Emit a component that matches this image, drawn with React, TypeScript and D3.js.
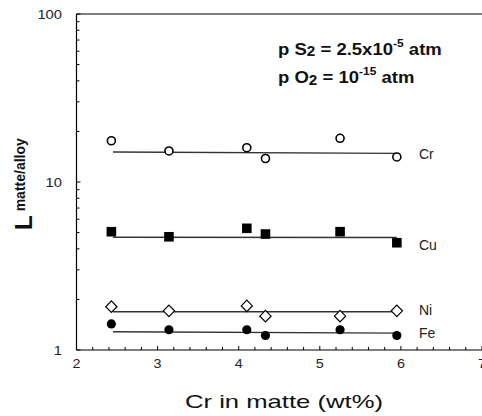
import React from "react";
import * as d3 from "d3";

const xValues = [2.43, 3.14, 4.1, 4.33, 5.25, 5.95];
const crValues = [17.6, 15.3, 16.0, 13.8, 18.2, 14.1];
const cuValues = [5.06, 4.72, 5.3, 4.9, 5.06, 4.35];
const niValues = [1.81, 1.71, 1.83, 1.59, 1.59, 1.71];
const feValues = [1.43, 1.32, 1.32, 1.22, 1.32, 1.22];

const fitX = [2.45, 5.95];
const crFit = [15.1, 14.8];
const cuFit = [4.69, 4.67];
const niFit = [1.69, 1.69];
const feFit = [1.285, 1.26];

const seriesNames = ["Cr", "Cu", "Ni", "Fe"];
const xTickLabels = ["2", "3", "4", "5", "6", "7"];
const yTickLabels = ["1", "10", "100"];

const W = 482;
const H = 416;

export default function App() {
  const x = d3.scaleLinear().domain([2, 7]).range([76.5, 482]);
  const y = d3.scaleLog().domain([1, 100]).range([350, 14]);
  const left = x(2);
  const bottom = y(1);
  const top = y(100);

  const xMinor = d3.range(0, 26).map((i) => 2 + i * 0.2);
  const yMinor: number[] = [];
  [1, 10].forEach((d) => {
    for (let k = 2; k <= 9; k++) yMinor.push(d * k);
  });

  const fitLine = (vals: number[]) =>
    d3.line<number>().x((_, i) => x(fitX[i])).y((v) => y(v))(vals) || "";

  const series = [
    { name: seriesNames[0], vals: crValues, fit: crFit, kind: "openCircle" },
    { name: seriesNames[1], vals: cuValues, fit: cuFit, kind: "square" },
    { name: seriesNames[2], vals: niValues, fit: niFit, kind: "diamond" },
    { name: seriesNames[3], vals: feValues, fit: feFit, kind: "dot" },
  ];
  const labelY: Record<string, number> = { Cr: 14.7, Cu: 4.22, Ni: 1.73, Fe: 1.26 };

  const marker = (kind: string, cx: number, cy: number, key: number) => {
    if (kind === "openCircle")
      return <circle key={key} cx={cx} cy={cy} r={4} fill="#fff" stroke="#000" strokeWidth={1.6} />;
    if (kind === "square")
      return <rect key={key} x={cx - 4.8} y={cy - 4.8} width={9.6} height={9.6} fill="#000" />;
    if (kind === "diamond")
      return (
        <path
          key={key}
          d={`M${cx},${cy - 5.8}L${cx + 5.6},${cy}L${cx},${cy + 5.8}L${cx - 5.6},${cy}Z`}
          fill="#fff"
          stroke="#000"
          strokeWidth={1.2}
        />
      );
    return <circle key={key} cx={cx} cy={cy} r={4.6} fill="#000" />;
  };

  const font = "'Liberation Sans', Arial, sans-serif";

  return (
    <svg
      width={W}
      height={H}
      style={{ position: "absolute", left: 0, top: 0, background: "#fff" }}
      fontFamily={font}
    >
      <rect x={0} y={0} width={W} height={H} fill="#fff" />
      {/* axes frame */}
      <line x1={left} x2={W} y1={top} y2={top} stroke="#000" strokeWidth={1} />
      <line x1={left} x2={left} y1={top} y2={bottom} stroke="#000" strokeWidth={1.2} />
      <line x1={left} x2={W} y1={bottom} y2={bottom} stroke="#000" strokeWidth={1.2} />

      {/* x ticks */}
      {xMinor.map((v, i) => (
        <line
          key={"xm" + i}
          x1={x(v)}
          x2={x(v)}
          y1={bottom}
          y2={bottom - (i % 5 === 0 ? 4 : 3)}
          stroke="#000"
        />
      ))}
      {xTickLabels.map((t) => (
        <text
          key={"xl" + t}
          x={x(+t)}
          y={368}
          textAnchor="middle"
          fontSize={12}
          fill="#222"
          textLength={8}
          lengthAdjust="spacingAndGlyphs"
        >
          {t}
        </text>
      ))}

      {/* y ticks */}
      {yMinor.map((v, i) => (
        <line key={"ym" + i} x1={left} x2={left + 3} y1={y(v)} y2={y(v)} stroke="#000" />
      ))}
      {yTickLabels.map((t) => (
        <line key={"yM" + t} x1={left} x2={left + 4} y1={y(+t)} y2={y(+t)} stroke="#000" />
      ))}
      {yTickLabels.map((t) => (
        <text
          key={"yl" + t}
          x={62}
          y={y(+t) + 5}
          textAnchor="end"
          fontSize={12}
          fill="#222"
          textLength={t.length * 8.2}
          lengthAdjust="spacingAndGlyphs"
        >
          {t}
        </text>
      ))}

      {/* fit lines */}
      {series.map((s) => (
        <path key={"f" + s.name} d={fitLine(s.fit)} fill="none" stroke="#333" strokeWidth={1.4} />
      ))}

      {/* markers */}
      {series.map((s) => (
        <g key={"m" + s.name}>{s.vals.map((v, i) => marker(s.kind, x(xValues[i]), y(v), i))}</g>
      ))}

      {/* series labels */}
      {series.map((s) => (
        <text key={"l" + s.name} x={419} y={y(labelY[s.name]) + 5} fontSize={14} fill="#222">
          {s.name}
        </text>
      ))}

      {/* annotation */}
      <text transform="translate(278,55) scale(1.09,1)" fontSize={17} fontWeight="bold" fill="#111">
        <tspan>p S</tspan>
        <tspan fontSize={14} dy={1}>2</tspan>
        <tspan dy={-1}> = 2.5x10</tspan>
        <tspan fontSize={11} dy={-8}>-5</tspan>
        <tspan dy={8}> atm</tspan>
      </text>
      <text transform="translate(278,83) scale(1.09,1)" fontSize={17} fontWeight="bold" fill="#111">
        <tspan>p O</tspan>
        <tspan fontSize={14} dy={2}>2</tspan>
        <tspan dy={-2}> = 10</tspan>
        <tspan fontSize={11} dy={-8}>-15</tspan>
        <tspan dy={8}> atm</tspan>
      </text>

      {/* y label */}
      <text transform="translate(32,230) rotate(-90)" fontWeight="bold" fill="#111">
        <tspan fontSize={24}>L</tspan>
        <tspan fontSize={14} dx={4} dy={-7}>
          matte/alloy
        </tspan>
      </text>

      {/* x label */}
      <text
        x={185}
        y={408}
        fontSize={19}
        fill="#111"
        textLength={198}
        lengthAdjust="spacingAndGlyphs"
      >
        Cr in matte (wt%)
      </text>
    </svg>
  );
}
